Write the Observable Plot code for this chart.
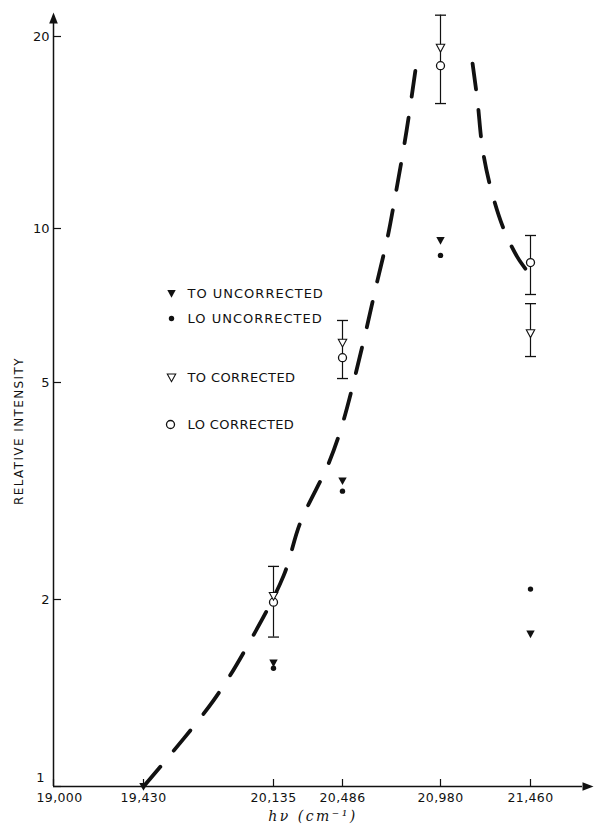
<!DOCTYPE html>
<html><head><meta charset="utf-8">
<script src="https://cdn.jsdelivr.net/npm/d3@7"></script>
<script src="https://cdn.jsdelivr.net/npm/@observablehq/plot@0.6"></script>
<style>
body{margin:0;background:#fff}
#chart{width:595px;height:824px}
</style>
</head><body><div id="chart"></div>
<script>
// ---- data ----
const toUncorrectedX = [19430, 20135, 20486, 20980, 21460];
const toUncorrected = [1.0, 1.58, 3.30, 9.47, 1.76];
const loUncorrectedX = [20135, 20486, 20980, 21460];
const loUncorrected = [1.55, 3.16, 8.86, 2.09];
const correctedX = [20135, 20486, 20980, 21460];
const toCorrected = [2.03, 5.98, 19.2, 6.24];
const loCorrected = [1.98, 5.59, 18.0, 8.58];
const errorX = [20135, 20486, 20980, 21460, 21460];
const errorLow = [1.74, 5.09, 15.7, 7.43, 5.62];
const errorHigh = [2.30, 6.61, 21.6, 9.69, 7.13];
const fitLeftX = [19430, 19810, 20010, 20186, 20272, 20415, 20486, 20587, 20662, 20713, 20748, 20809, 20859];
const fitLeftY = [1.0, 1.376, 1.718, 2.21, 2.77, 3.55, 4.20, 5.91, 7.91, 9.6, 11.06, 14.24, 18.2];
const fitRightX = [21151, 21177, 21204, 21247, 21316, 21391, 21444];
const fitRightY = [18.14, 15.87, 13.35, 11.6, 10.0, 8.78, 8.24];
const xTicks = [19000, 19430, 20135, 20486, 20980, 21460];
const xTickLabels = ["19,000", "19,430", "20,135", "20,486", "20,980", "21,460"];
const yTicks = [1, 2, 5, 10, 20];
const yTickLabels = ["1", "2", "5", "10", "20"];
const legendLabels = ["TO UNCORRECTED", "LO UNCORRECTED", "TO CORRECTED", "LO CORRECTED"];
const yLabel = "RELATIVE INTENSITY";
const xLabel = "hν (cm⁻¹)";

// ---- tables built from the arrays ----
const toUnc = toUncorrectedX.map((x, i) => ({x, y: toUncorrected[i]}));
const loUnc = loUncorrectedX.map((x, i) => ({x, y: loUncorrected[i]}));
const toCor = correctedX.map((x, i) => ({x, y: toCorrected[i]}));
const loCor = correctedX.map((x, i) => ({x, y: loCorrected[i]}));
const errs = errorX.map((x, i) => ({x, lo: errorLow[i], hi: errorHigh[i]}));
const fitL = fitLeftX.map((x, i) => ({x, y: fitLeftY[i]}));
const fitR = fitRightX.map((x, i) => ({x, y: fitRightY[i]}));
const xFmt = d => xTickLabels[xTicks.indexOf(d)];
const yFmt = d => yTickLabels[yTicks.indexOf(d)];

// ---- symbols ----
const triDown = {draw(ctx) { ctx.moveTo(-4.2, -3.5); ctx.lineTo(4.2, -3.5); ctx.lineTo(0, 4.2); ctx.closePath(); }};
const cap = {draw(ctx) { ctx.moveTo(-5.5, 0); ctx.lineTo(5.5, 0); }};
const arrowHead = {draw(ctx) { ctx.moveTo(0, -11); ctx.lineTo(4.3, 0); ctx.lineTo(-4.3, 0); ctx.closePath(); }};

const ink = "#111";
const legendDy = [270, 295, 354, 401];

const marks = [
  Plot.ruleY([yTicks[0]], {stroke: ink, strokeWidth: 1.3}),
  Plot.ruleX([xTicks[0]], {stroke: ink, strokeWidth: 1.5}),
  Plot.dot([0], {frameAnchor: "top-left", symbol: arrowHead, fill: ink, stroke: "none"}),
  Plot.dot([0], {frameAnchor: "bottom-right", symbol: arrowHead, rotate: 90, fill: ink, stroke: "none"}),
  Plot.axisY(yTicks, {anchor: "left", tickSize: 8, dx: 8, tickFormat: () => "", label: null, strokeWidth: 1.2}),
  Plot.axisY(yTicks.slice(1), {anchor: "left", tickSize: 0, tickPadding: 4, tickFormat: yFmt, label: null, fontSize: 13}),
  Plot.axisY(yTicks.slice(0, 1), {anchor: "left", tickSize: 0, tickPadding: 9, dy: -9, tickFormat: yFmt, label: null, fontSize: 13}),
  Plot.axisX(xTicks, {anchor: "bottom", tickSize: 7, dy: -7, tickFormat: () => "", label: null, strokeWidth: 1.2}),
  Plot.axisX(xTicks.slice(1), {anchor: "bottom", tickSize: 0, tickPadding: 7, tickFormat: xFmt, label: null, fontSize: 12.5}),
  Plot.axisX(xTicks.slice(0, 1), {anchor: "bottom", tickSize: 0, tickPadding: 7, dx: 6, tickFormat: xFmt, label: null, fontSize: 12.5}),
  Plot.text([yLabel], {frameAnchor: "left", text: d => d, rotate: -90, textAnchor: "middle", lineAnchor: "middle", dx: -34, dy: 26, fontSize: 12, fill: ink}),
  Plot.text([xLabel], {frameAnchor: "bottom", text: d => d, textAnchor: "middle", lineAnchor: "middle", dx: -5, dy: 30, fontSize: 14, fontStyle: "italic", fontFamily: "DejaVu Serif", fill: ink}),
  // fitted dashed curve
  Plot.line(fitL, {x: "x", y: "y", stroke: ink, strokeWidth: 3.8, strokeDasharray: "26,21", curve: "catmull-rom"}),
  Plot.line(fitR, {x: "x", y: "y", stroke: ink, strokeWidth: 3.8, strokeDasharray: "26,21", curve: "catmull-rom"}),
  // error bars
  Plot.ruleX(errs, {x: "x", y1: "lo", y2: "hi", stroke: ink, strokeWidth: 1.2}),
  Plot.dot(errs, {x: "x", y: "lo", symbol: cap, stroke: ink, fill: "none", strokeWidth: 1.3}),
  Plot.dot(errs, {x: "x", y: "hi", symbol: cap, stroke: ink, fill: "none", strokeWidth: 1.3}),
  // points
  Plot.dot(loCor, {x: "x", y: "y", r: 4, fill: "white", stroke: ink, strokeWidth: 1.3}),
  Plot.dot(toCor, {x: "x", y: "y", symbol: triDown, fill: "white", stroke: ink, strokeWidth: 1.1}),
  Plot.dot(toUnc, {x: "x", y: "y", symbol: triDown, fill: ink, stroke: "none"}),
  Plot.dot(loUnc, {x: "x", y: "y", r: 2.7, fill: ink, stroke: "none"}),
  // legend
  Plot.dot([0], {frameAnchor: "top-left", dx: 118, dy: legendDy[0], symbol: triDown, fill: ink, stroke: "none"}),
  Plot.dot([0], {frameAnchor: "top-left", dx: 118, dy: legendDy[1], r: 2.7, fill: ink, stroke: "none"}),
  Plot.dot([0], {frameAnchor: "top-left", dx: 118, dy: legendDy[2], symbol: triDown, fill: "white", stroke: ink, strokeWidth: 1.1}),
  Plot.dot([0], {frameAnchor: "top-left", dx: 117, dy: legendDy[3], r: 4, fill: "white", stroke: ink, strokeWidth: 1.3}),
  ...legendLabels.map((t, i) => Plot.text([t], {frameAnchor: "top-left", text: d => d, dx: 134, dy: legendDy[i], textAnchor: "start", lineAnchor: "middle", fontSize: 13, fill: ink}))
];

const chart = Plot.plot({
  width: 595,
  height: 824,
  marginLeft: 53,
  marginRight: 13,
  marginTop: 23,
  marginBottom: 38,
  style: {fontFamily: "DejaVu Sans", fontSize: "12px", color: ink, background: "#fff"},
  x: {type: "linear", domain: xTicks, range: [53, 143, 273, 342, 440, 530]},
  y: {type: "log", domain: yTicks, range: [786, 599, 382, 228, 36]},
  marks
});
document.getElementById("chart").appendChild(chart);

// letter spacing to mimic the lettering-guide text
d3.select(chart).selectAll("text").each(function () {
  const t = this.textContent;
  if (legendLabels.includes(t)) this.setAttribute("letter-spacing", t.includes("UN") ? "1" : "0.4");
  else if (t === yLabel) this.setAttribute("letter-spacing", "1.4");
  else if (t === xLabel) this.setAttribute("letter-spacing", "2.5");
  else if (xTickLabels.includes(t)) this.setAttribute("letter-spacing", "0.4");
});
</script>
</body></html>
